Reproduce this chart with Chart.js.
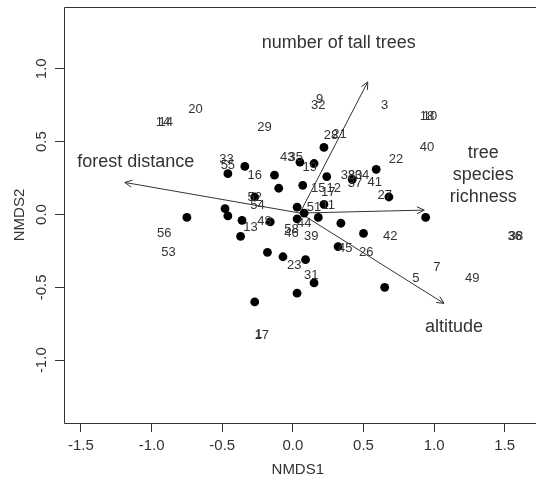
<!DOCTYPE html>
<html>
<head>
<meta charset="utf-8">
<script src="https://cdn.jsdelivr.net/npm/chart.js@4"></script>
<style>
  html, body { margin: 0; padding: 0; background: #fff; }
  canvas { display: block; }
</style>
</head>
<body>
<canvas id="nmds" width="536" height="481"></canvas>
<script>
// site scores (filled dots)
const pointX = [-0.46, -0.34, -0.13, -0.10, -0.48, -0.46, -0.75, -0.36, -0.27, -0.16, -0.37, 0.22, 0.05, 0.15, 0.24, 0.42, 0.59, 0.07,
  0.68, 0.22, 0.03, 0.08, 0.18, 0.03, 0.34, 0.50, 0.94, 0.32, -0.18, -0.07, 0.09, 0.15, 0.03, 0.65, -0.27];
const pointY = [0.28, 0.33, 0.27, 0.18, 0.04, -0.01, -0.02, -0.04, 0.12, -0.05, -0.15, 0.46, 0.36, 0.35, 0.26, 0.24, 0.31, 0.20,
  0.12, 0.07, 0.05, 0.01, -0.02, -0.03, -0.06, -0.13, -0.02, -0.22, -0.26, -0.29, -0.31, -0.47, -0.54, -0.50, -0.60];

// numbered labels
const labelText = ["14", "14", "20", "29", "33", "55", "16", "43", "35", "19", "28", "21", "32", "9", "3", "18", "10", "40",
  "22", "38", "30", "34", "37", "41", "27", "15", "17", "12", "51", "11", "44", "58", "46", "39", "48", "13", "52", "54",
  "56", "53", "17", "1", "23", "31", "45", "26", "42", "7", "5", "49", "36", "38"];
const labelX = [-0.92, -0.90, -0.69, -0.20, -0.47, -0.46, -0.27, -0.04, 0.02, 0.12, 0.27, 0.33, 0.18, 0.19, 0.65, 0.95, 0.97, 0.95,
  0.73, 0.39, 0.44, 0.49, 0.44, 0.58, 0.65, 0.18, 0.25, 0.29, 0.15, 0.25, 0.08, -0.01, -0.01, 0.13, -0.20, -0.30, -0.27, -0.25,
  -0.91, -0.88, -0.22, -0.24, 0.01, 0.13, 0.37, 0.52, 0.69, 1.02, 0.87, 1.27, 1.57, 1.58];
const labelY = [0.63, 0.63, 0.72, 0.60, 0.38, 0.34, 0.27, 0.39, 0.39, 0.32, 0.54, 0.55, 0.75, 0.79, 0.75, 0.67, 0.67, 0.46,
  0.38, 0.27, 0.27, 0.27, 0.21, 0.22, 0.13, 0.18, 0.15, 0.18, 0.05, 0.06, -0.06, -0.10, -0.13, -0.15, -0.05, -0.09, 0.12, 0.06,
  -0.13, -0.26, -0.83, -0.82, -0.35, -0.42, -0.23, -0.26, -0.15, -0.36, -0.44, -0.44, -0.15, -0.15];

// fitted environmental vectors
const vectorNames = ["forest distance", "number of tall trees", "tree\nspecies\nrichness", "altitude"];
const vectorX = [-1.19, 0.53, 0.93, 1.07];
const vectorY = [0.22, 0.91, 0.03, -0.61];
const originX = 0.05, originY = 0.01;

const xTicks = [-1.5, -1.0, -0.5, 0.0, 0.5, 1.0, 1.5];
const yTicks = [-1.0, -0.5, 0.0, 0.5, 1.0];

const FONT = '"Liberation Sans", Arial, Helvetica, sans-serif';
const INK = '#333';
// where each vector name sits relative to its arrow head (px)
const nameOffset = [[11, -20], [-29, -39], [59, -57], [10, 24]];

const rPlot = {
  id: 'rPlot',
  afterDatasetsDraw(chart) {
    const ctx = chart.ctx;
    ctx.save();
    ctx.fillStyle = INK;
    ctx.textAlign = 'center';
    ctx.textBaseline = 'middle';
    ctx.font = '13px ' + FONT;
    chart.getDatasetMeta(1).data.forEach((pt, i) => ctx.fillText(labelText[i], pt.x, pt.y));

    ctx.strokeStyle = INK;
    ctx.lineWidth = 1;
    vectorNames.forEach((name, i) => {
      const m = chart.getDatasetMeta(2 + i);
      const a = m.data[0], b = m.data[1];
      const ang = Math.atan2(b.y - a.y, b.x - a.x);
      ctx.beginPath();
      ctx.moveTo(b.x - 8 * Math.cos(ang - 0.45), b.y - 8 * Math.sin(ang - 0.45));
      ctx.lineTo(b.x, b.y);
      ctx.lineTo(b.x - 8 * Math.cos(ang + 0.45), b.y - 8 * Math.sin(ang + 0.45));
      ctx.stroke();
      ctx.font = '18px ' + FONT;
      name.split('\n').forEach((line, k) => {
        ctx.fillText(line, b.x + nameOffset[i][0], b.y + nameOffset[i][1] + k * 22);
      });
    });
    ctx.restore();
  },
  afterDraw(chart) {
    const ctx = chart.ctx;
    const area = chart.chartArea;
    const y = chart.scales.y;
    const l = Math.round(area.left) + 0.5, t = Math.round(area.top) + 0.5, b = Math.round(area.bottom) + 0.5;
    ctx.save();
    ctx.strokeStyle = INK;
    ctx.lineWidth = 1;
    // frame runs off the right edge of the figure
    ctx.beginPath();
    ctx.moveTo(chart.width + 2, t);
    ctx.lineTo(l, t);
    ctx.lineTo(l, b);
    ctx.lineTo(chart.width + 2, b);
    ctx.stroke();
    // R style y labels, turned parallel to the axis
    ctx.fillStyle = INK;
    ctx.font = '15px ' + FONT;
    ctx.textAlign = 'center';
    ctx.textBaseline = 'middle';
    yTicks.forEach(v => {
      ctx.save();
      ctx.translate(42, y.getPixelForValue(v));
      ctx.rotate(-Math.PI / 2);
      ctx.fillText(v.toFixed(1), 0, 0);
      ctx.restore();
    });
    ctx.restore();
  }
};

const arrowSets = vectorNames.map((n, i) => ({
  label: n,
  data: [{x: originX, y: originY}, {x: vectorX[i], y: vectorY[i]}],
  showLine: true,
  borderColor: INK,
  borderWidth: 1,
  pointRadius: 0
}));

new Chart(document.getElementById('nmds'), {
  type: 'scatter',
  data: {
    datasets: [
      {
        label: 'sites',
        data: pointX.map((v, i) => ({x: v, y: pointY[i]})),
        backgroundColor: '#000',
        borderColor: '#000',
        pointRadius: 4.4,
        borderWidth: 0
      },
      {
        label: 'labels',
        data: labelX.map((v, i) => ({x: v, y: labelY[i]})),
        pointRadius: 0
      },
      ...arrowSets
    ]
  },
  options: {
    responsive: false,
    animation: false,
    events: [],
    layout: { padding: { top: 7, right: 0, left: 0, bottom: 0 } },
    plugins: { legend: { display: false }, tooltip: { enabled: false } },
    scales: {
      x: {
        type: 'linear',
        min: -1.62,
        max: 1.69,
        afterBuildTicks: axis => { axis.ticks = xTicks.map(v => ({value: v})); },
        afterFit: axis => { axis.height = 58; },
        border: { display: false },
        grid: { drawOnChartArea: false, drawTicks: true, tickLength: 9, color: INK },
        ticks: {
          autoSkip: false, maxRotation: 0, padding: 5, color: INK,
          font: { family: FONT, size: 15 },
          callback: v => Number(v).toFixed(1)
        },
        title: { display: true, text: 'NMDS1', color: INK, font: { family: FONT, size: 15 }, padding: { top: 0, bottom: 2 } }
      },
      y: {
        type: 'linear',
        min: -1.431,
        max: 1.424,
        afterBuildTicks: axis => { axis.ticks = yTicks.map(v => ({value: v})); },
        afterFit: axis => { axis.width = 64; },
        border: { display: false },
        grid: { drawOnChartArea: false, drawTicks: true, tickLength: 9, color: INK },
        ticks: { display: false },
        title: { display: true, text: 'NMDS2', color: INK, font: { family: FONT, size: 15 }, padding: { top: 11, bottom: 0 } }
      }
    }
  },
  plugins: [rPlot]
});
</script>
</body>
</html>
